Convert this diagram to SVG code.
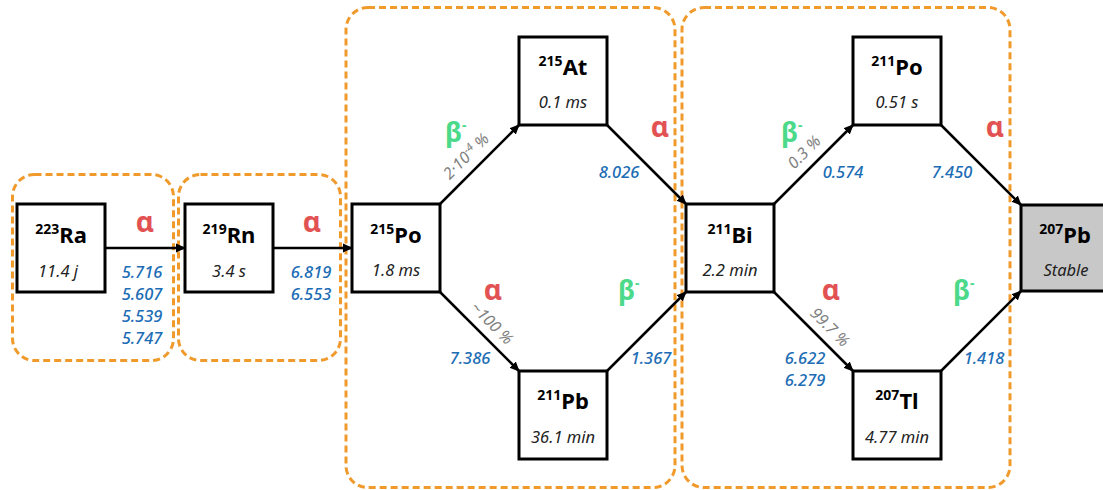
<svg xmlns="http://www.w3.org/2000/svg" width="1103" height="490" viewBox="0 0 1103 490">
<defs>
<marker id="arr" viewBox="0 0 10 10" refX="9" refY="5" markerWidth="10" markerHeight="10" markerUnits="userSpaceOnUse" orient="auto">
<path d="M0,0.5 L10,5 L0,9.5 Z" fill="#000"/>
</marker>
<style>
.grp{fill:none;stroke:#f09a2c;stroke-width:3;stroke-dasharray:7,4}
.box{fill:#fff;stroke:#000;stroke-width:3}
.nuc{font-family:"Noto Sans","Liberation Sans",sans-serif;font-weight:bold;font-size:22px;fill:#000;text-anchor:middle}
.sup{font-size:14px}
.hl{font-family:"Noto Sans","Liberation Sans",sans-serif;font-style:italic;font-size:16.5px;fill:#222;text-anchor:middle}
.en{font-family:"Noto Sans","Liberation Sans",sans-serif;font-style:italic;font-weight:500;font-size:16.5px;fill:#1c6db5;text-anchor:middle}
.a{font-family:"Noto Sans","Liberation Sans",sans-serif;font-weight:bold;font-size:28px;fill:#e25252;text-anchor:middle}
.b{font-family:"Noto Sans","Liberation Sans",sans-serif;font-weight:bold;font-size:27px;fill:#4cd98a}
.bs{font-size:14px}
.pc{font-family:"Noto Sans","Liberation Sans",sans-serif;font-style:italic;font-size:16px;fill:#808080;text-anchor:middle}
.con{stroke:#000;stroke-width:2.5;fill:none;marker-end:url(#arr)}
</style>
</defs>
<rect width="1103" height="490" fill="#fff"/>

<g id="groups">
<rect class="grp" x="12.5" y="174.5" width="161" height="186" rx="22"/>
<rect class="grp" x="178.5" y="174.5" width="162" height="186" rx="22"/>
<rect class="grp" x="346" y="7.5" width="329" height="480" rx="22"/>
<rect class="grp" x="682" y="7.5" width="328" height="480" rx="22"/>
</g>

<g id="connectors">
<line class="con" x1="105" y1="248" x2="185" y2="248"/>
<line class="con" x1="273" y1="248" x2="352" y2="248"/>
<line class="con" x1="440" y1="204" x2="519" y2="125"/>
<line class="con" x1="440" y1="292" x2="519" y2="371"/>
<line class="con" x1="607" y1="125" x2="686" y2="204"/>
<line class="con" x1="607" y1="371" x2="686" y2="292"/>
<line class="con" x1="774" y1="204" x2="853" y2="125"/>
<line class="con" x1="774" y1="292" x2="853" y2="371"/>
<line class="con" x1="941" y1="125" x2="1021" y2="205"/>
<line class="con" x1="941" y1="371" x2="1021" y2="291"/>
</g>

<g id="n-ra223">
<rect class="box" x="17" y="204" width="88" height="88"/>
<text class="nuc" x="61" y="243"><tspan class="sup" dy="-9">223</tspan><tspan dy="9">Ra</tspan></text>
<text class="hl" x="58" y="277">11.4 j</text>
</g>
<g id="n-rn219">
<rect class="box" x="185" y="204" width="88" height="88"/>
<text class="nuc" x="229" y="243"><tspan class="sup" dy="-9">219</tspan><tspan dy="9">Rn</tspan></text>
<text class="hl" x="229" y="277">3.4 s</text>
</g>
<g id="n-po215">
<rect class="box" x="352" y="204" width="88" height="88"/>
<text class="nuc" x="396" y="243"><tspan class="sup" dy="-9">215</tspan><tspan dy="9">Po</tspan></text>
<text class="hl" x="396" y="276">1.8 ms</text>
</g>
<g id="n-at215">
<rect class="box" x="519" y="37" width="88" height="88"/>
<text class="nuc" x="563" y="75"><tspan class="sup" dy="-9">215</tspan><tspan dy="9">At</tspan></text>
<text class="hl" x="563" y="108">0.1 ms</text>
</g>
<g id="n-pb211">
<rect class="box" x="519" y="371" width="88" height="88"/>
<text class="nuc" x="563" y="409"><tspan class="sup" dy="-9">211</tspan><tspan dy="9">Pb</tspan></text>
<text class="hl" x="563" y="443">36.1 min</text>
</g>
<g id="n-bi211">
<rect class="box" x="686" y="204" width="88" height="88"/>
<text class="nuc" x="730" y="243"><tspan class="sup" dy="-9">211</tspan><tspan dy="9">Bi</tspan></text>
<text class="hl" x="730" y="276">2.2 min</text>
</g>
<g id="n-po211">
<rect class="box" x="853" y="37" width="88" height="88"/>
<text class="nuc" x="897" y="75"><tspan class="sup" dy="-9">211</tspan><tspan dy="9">Po</tspan></text>
<text class="hl" x="897" y="108">0.51 s</text>
</g>
<g id="n-tl207">
<rect class="box" x="853" y="371" width="88" height="88"/>
<text class="nuc" x="897" y="409"><tspan class="sup" dy="-9">207</tspan><tspan dy="9">Tl</tspan></text>
<text class="hl" x="897" y="443">4.77 min</text>
</g>
<g id="n-pb207">
<rect class="box" x="1021" y="205" width="92" height="86" style="fill:#c8c8c8"/>
<text class="nuc" x="1065" y="243"><tspan class="sup" dy="-9">207</tspan><tspan dy="9">Pb</tspan></text>
<text class="hl" x="1066" y="276">Stable</text>
</g>

<g id="labels">
<text class="a" x="145" y="232">α</text>
<text class="en" x="142" y="278">5.716</text>
<text class="en" x="142" y="300">5.607</text>
<text class="en" x="142" y="322">5.539</text>
<text class="en" x="142" y="344">5.747</text>

<text class="a" x="312" y="232">α</text>
<text class="en" x="311" y="278">6.819</text>
<text class="en" x="311" y="300">6.553</text>

<text class="b" x="445" y="142">β<tspan class="bs" dy="-12">-</tspan></text>
<text class="pc" transform="rotate(-45 470 160)" x="470" y="160">2·10<tspan font-size="11" dy="-6">-4</tspan><tspan dy="6"> %</tspan></text>

<text class="a" x="660" y="137">α</text>
<text class="en" x="619" y="178">8.026</text>

<text class="a" x="493" y="300">α</text>
<text class="pc" transform="rotate(45 488 327)" x="488" y="327">~100 %</text>
<text class="en" x="470" y="364">7.386</text>

<text class="b" x="618" y="300">β<tspan class="bs" dy="-12">-</tspan></text>
<text class="en" x="651" y="364">1.367</text>

<text class="b" x="781" y="142">β<tspan class="bs" dy="-12">-</tspan></text>
<text class="pc" transform="rotate(-45 808 156)" x="808" y="156">0.3 %</text>
<text class="en" x="843" y="178">0.574</text>

<text class="a" x="995" y="137">α</text>
<text class="en" x="952" y="178">7.450</text>

<text class="a" x="831" y="300">α</text>
<text class="pc" transform="rotate(45 826 331)" x="826" y="331">99.7 %</text>
<text class="en" x="805" y="364">6.622</text>
<text class="en" x="805" y="386">6.279</text>

<text class="b" x="953" y="300">β<tspan class="bs" dy="-12">-</tspan></text>
<text class="en" x="984" y="364">1.418</text>
</g>
</svg>
